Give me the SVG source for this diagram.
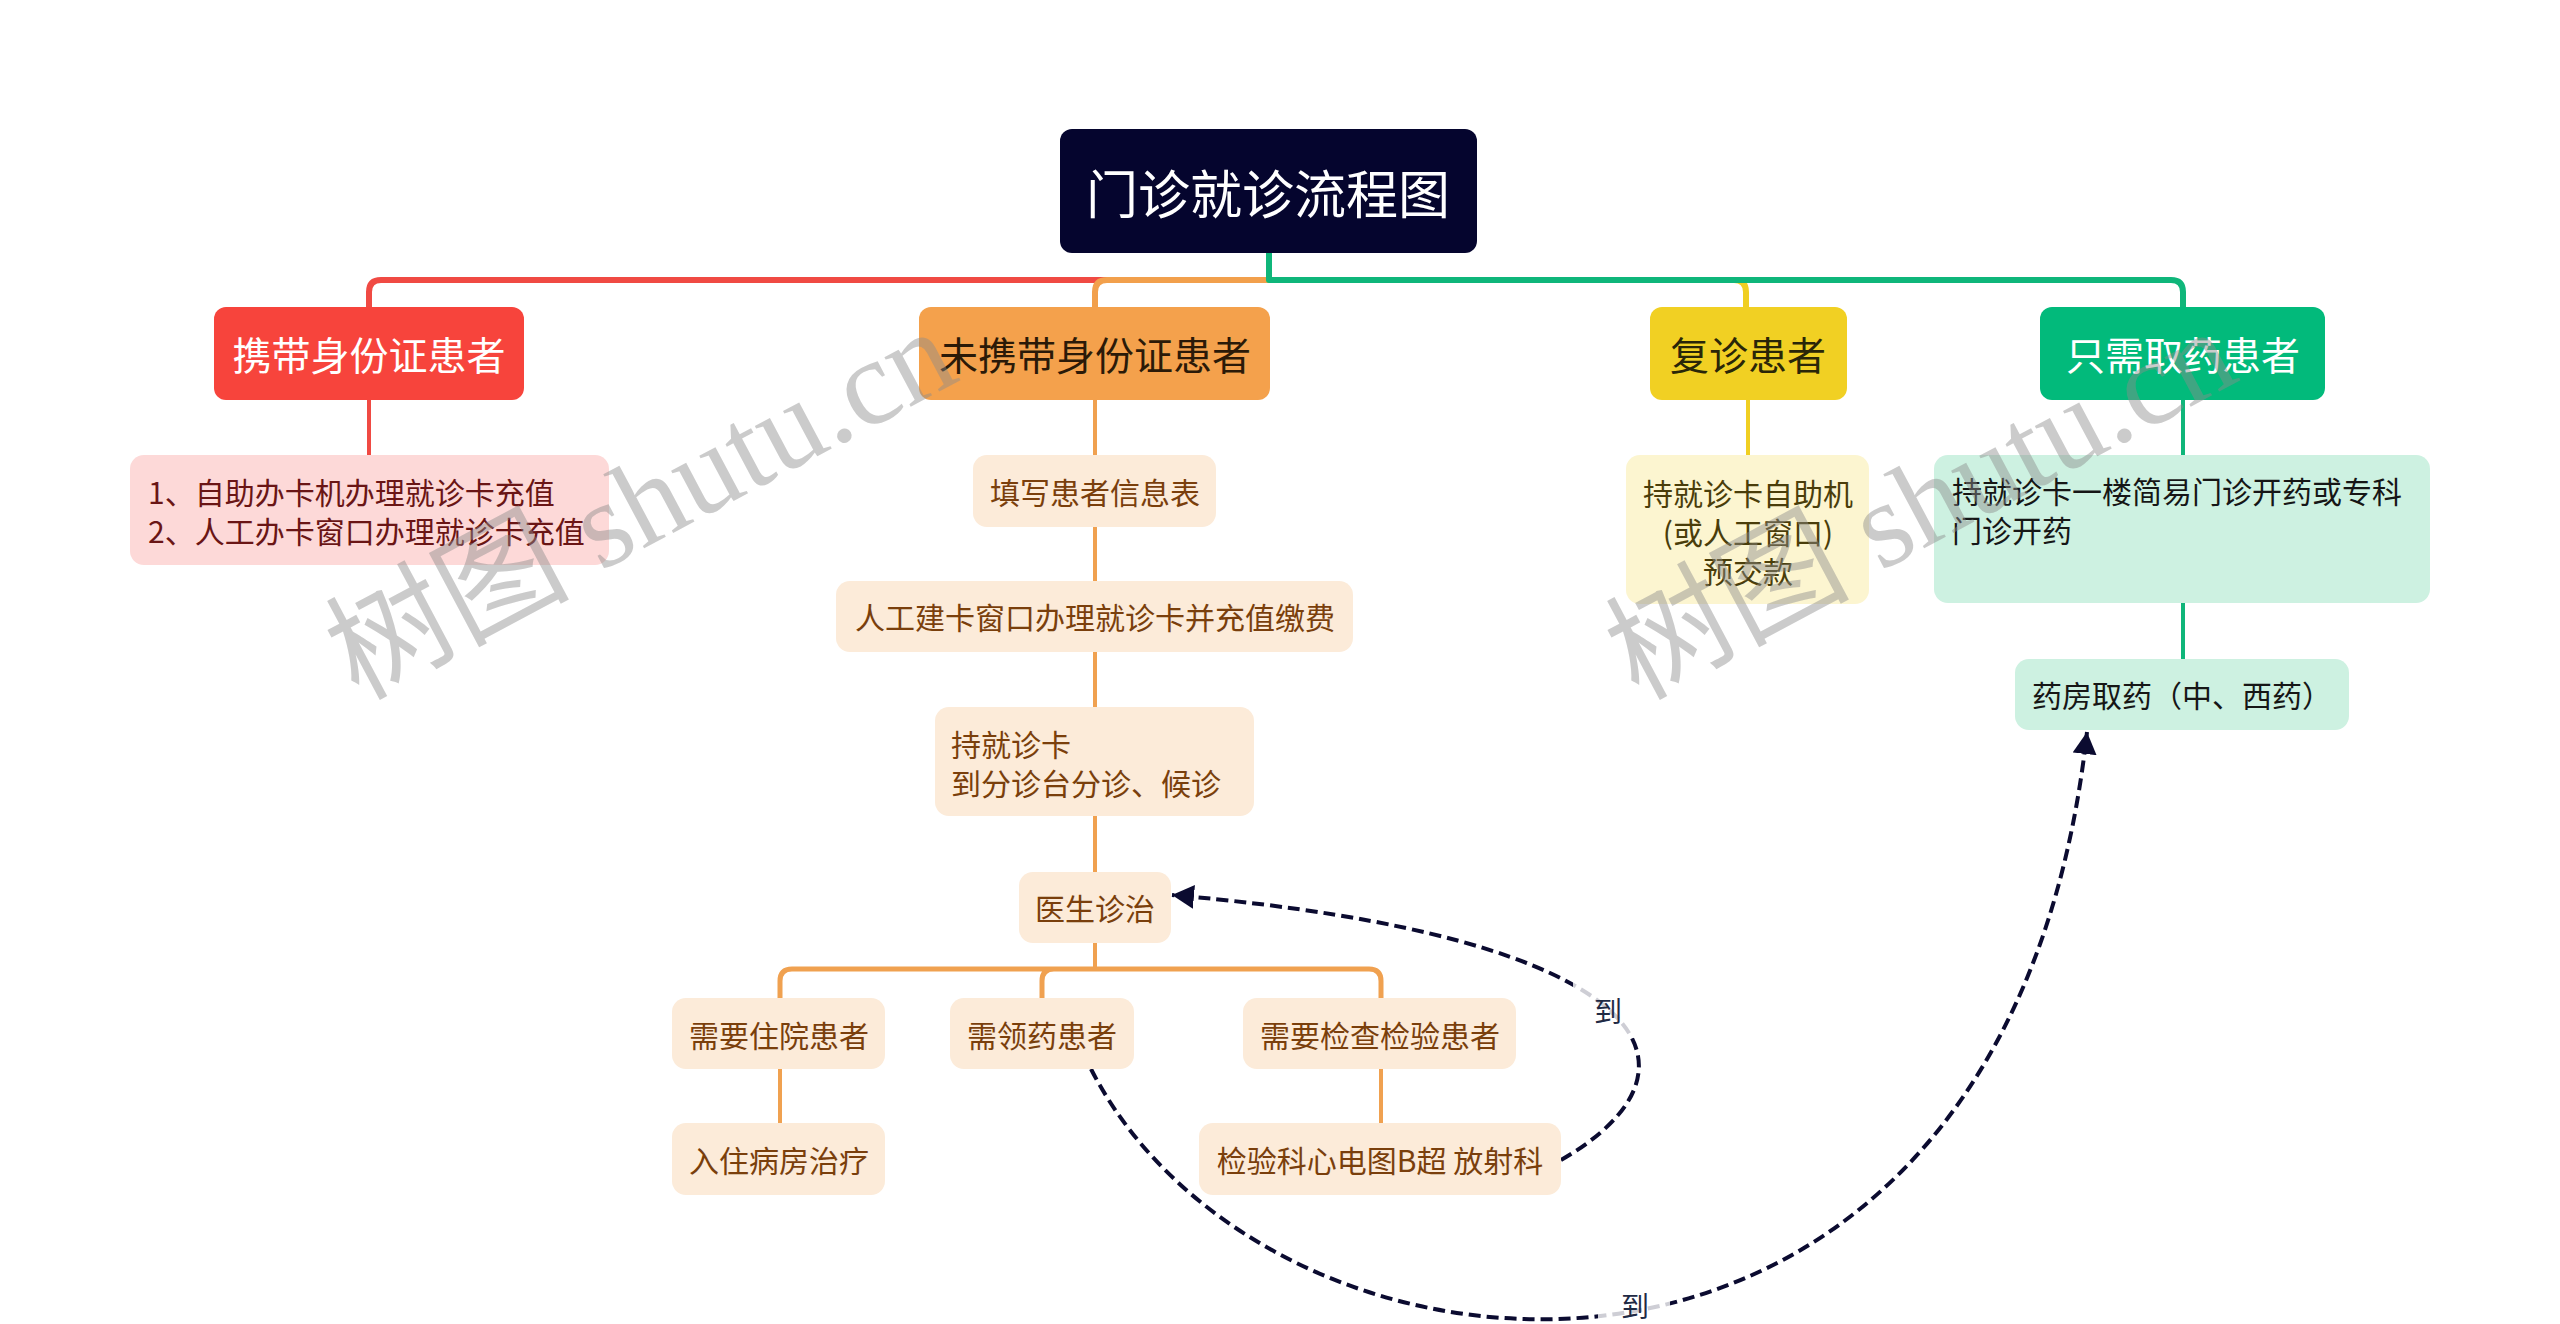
<svg xmlns="http://www.w3.org/2000/svg" width="2560" height="1324" viewBox="0 0 2560 1324">
<style>
text{font-family:"Noto Sans CJK SC","Noto Sans",sans-serif;}
.t1{font-size:52px;fill:#ffffff;text-anchor:middle;dominant-baseline:central;}
.t2{font-size:39px;text-anchor:middle;dominant-baseline:central;}
.t3{font-size:30px;dominant-baseline:central;}
.c{text-anchor:middle;}
.or{fill:#fcebd9;}
.ot{fill:#7a3f0c;}
.ln{fill:none;stroke-linecap:round;stroke-linejoin:round;}
.dash{fill:none;stroke:#0b0b30;stroke-width:4;stroke-dasharray:12 6;}
.lbl{font-size:28px;fill:#1f2a44;text-anchor:middle;dominant-baseline:central;}
.wm{font-family:"Liberation Serif","Noto Sans CJK SC",serif;font-size:122px;fill:#8c8c8c;fill-opacity:0.45;text-anchor:middle;}
</style>
<defs>
<marker id="arr" markerUnits="userSpaceOnUse" markerWidth="24" markerHeight="26" refX="22" refY="12" orient="auto">
<path d="M0,0 L22,12 L0,24 Z" fill="#0b0b30"/>
</marker>
</defs>
<rect width="2560" height="1324" fill="#ffffff"/>

<g id="connectors">
<path class="ln" stroke="#f04a43" stroke-width="6" d="M1269,253 V280 H381 Q369,280 369,292 V307"/>
<path class="ln" stroke="#f2a04c" stroke-width="6" d="M1269,253 V280 H1107 Q1095,280 1095,292 V307"/>
<path class="ln" stroke="#f0cf22" stroke-width="6" d="M1269,253 V280 H1734 Q1746,280 1746,292 V307"/>
<path class="ln" stroke="#0fb67a" stroke-width="6" d="M1269,253 V280 H2171 Q2183,280 2183,292 V307"/>
<path class="ln" stroke="#f04a43" stroke-width="4" d="M369,400 V455"/>
<path class="ln" stroke="#f0a150" stroke-width="4" d="M1095,400 V455 M1095,527 V581 M1095,652 V707 M1095,816 V872 M1095,943 V969"/>
<path class="ln" stroke="#f0a150" stroke-width="5" d="M1095,969 H792 Q780,969 780,981 V998 M1095,969 H1054 Q1042,969 1042,981 V998 M1095,969 H1369 Q1381,969 1381,981 V998"/>
<path class="ln" stroke="#f0a150" stroke-width="4" d="M780,1069 V1123 M1381,1069 V1123"/>
<path class="ln" stroke="#f0cf22" stroke-width="4" d="M1748,400 V455"/>
<path class="ln" stroke="#0fb67a" stroke-width="4" d="M2183,400 V455 M2183,603 V659"/>
<path class="dash" d="M1561,1160 C1719,1069 1659,937 1172,895" marker-end="url(#arr)"/>
<path class="dash" d="M1091,1069 C1270,1420 2005,1480 2087,732" marker-end="url(#arr)"/>
<rect x="1573" y="982" width="70" height="56" fill="#ffffff" fill-opacity="0.8"/>
<text class="lbl" x="1608" y="1010">到</text>
<rect x="1598" y="1286" width="72" height="38" fill="#ffffff" fill-opacity="0.8"/>
<text class="lbl" x="1635" y="1305">到</text>
</g>

<g id="root">
<rect x="1060" y="129" width="417" height="124" rx="12" fill="#05052e"/>
<text class="t1" x="1268" y="191">门诊就诊流程图</text>
</g>

<g id="n-red">
<rect x="214" y="307" width="310" height="93" rx="12" fill="#f7443c"/>
<text class="t2" x="369" y="353" fill="#ffffff">携带身份证患者</text>
</g>
<g id="n-red-1">
<rect x="130" y="455" width="479" height="110" rx="14" fill="#fdd9d8"/>
<text class="t3" x="148" y="491" fill="#6a1515">1、自助办卡机办理就诊卡充值</text>
<text class="t3" x="148" y="530" fill="#6a1515">2、人工办卡窗口办理就诊卡充值</text>
</g>

<g id="n-orange">
<rect x="919" y="307" width="351" height="93" rx="12" fill="#f4a14c"/>
<text class="t2" x="1095" y="353" fill="#2b1a08">未携带身份证患者</text>
</g>
<g id="n-o1">
<rect class="or" x="973" y="455" width="243" height="72" rx="14"/>
<text class="t3 c ot" x="1095" y="491">填写患者信息表</text>
</g>
<g id="n-o2">
<rect class="or" x="836" y="581" width="517" height="71" rx="14"/>
<text class="t3 c ot" x="1095" y="616">人工建卡窗口办理就诊卡并充值缴费</text>
</g>
<g id="n-o3">
<rect class="or" x="935" y="707" width="319" height="109" rx="14"/>
<text class="t3 ot" x="951" y="743">持就诊卡</text>
<text class="t3 ot" x="951" y="782">到分诊台分诊、候诊</text>
</g>
<g id="n-o4">
<rect class="or" x="1019" y="872" width="152" height="71" rx="14"/>
<text class="t3 c ot" x="1095" y="907">医生诊治</text>
</g>
<g id="n-o5">
<rect class="or" x="672" y="998" width="213" height="71" rx="14"/>
<text class="t3 c ot" x="779" y="1034">需要住院患者</text>
</g>
<g id="n-o6">
<rect class="or" x="950" y="998" width="184" height="71" rx="14"/>
<text class="t3 c ot" x="1042" y="1034">需领药患者</text>
</g>
<g id="n-o7">
<rect class="or" x="1243" y="998" width="273" height="71" rx="14"/>
<text class="t3 c ot" x="1380" y="1034">需要检查检验患者</text>
</g>
<g id="n-o8">
<rect class="or" x="672" y="1123" width="213" height="72" rx="14"/>
<text class="t3 c ot" x="779" y="1159">入住病房治疗</text>
</g>
<g id="n-o9">
<rect class="or" x="1199" y="1123" width="362" height="72" rx="14"/>
<text class="t3 c ot" x="1380" y="1159">检验科心电图B超 放射科</text>
</g>

<g id="n-yellow">
<rect x="1650" y="307" width="197" height="93" rx="12" fill="#f1d023"/>
<text class="t2" x="1748" y="353" fill="#2a2608">复诊患者</text>
</g>
<g id="n-y1">
<rect x="1626" y="455" width="243" height="149" rx="14" fill="#fcf5d0"/>
<text class="t3 c" x="1748" y="492" fill="#4a3d0a">持就诊卡自助机</text>
<text class="t3 c" x="1748" y="531" fill="#4a3d0a">(或人工窗口)</text>
<text class="t3 c" x="1748" y="570" fill="#4a3d0a">预交款</text>
</g>

<g id="n-green">
<rect x="2040" y="307" width="285" height="93" rx="12" fill="#02ba7b"/>
<text class="t2" x="2183" y="353" fill="#ffffff">只需取药患者</text>
</g>
<g id="n-g1">
<rect x="1934" y="455" width="496" height="148" rx="14" fill="#cdf1e1"/>
<text class="t3" x="1952" y="490" fill="#161616">持就诊卡一楼简易门诊开药或专科</text>
<text class="t3" x="1952" y="529" fill="#161616">门诊开药</text>
</g>
<g id="n-g2">
<rect x="2015" y="659" width="334" height="71" rx="14" fill="#cdf1e1"/>
<text class="t3" x="2032" y="694" fill="#161616">药房取药（中、西药）</text>
</g>

<g id="watermark">
<text class="wm" transform="translate(660,540) rotate(-28)">树图 shutu.cn</text>
<text class="wm" transform="translate(1940,540) rotate(-28)">树图 shutu.cn</text>
</g>
</svg>
